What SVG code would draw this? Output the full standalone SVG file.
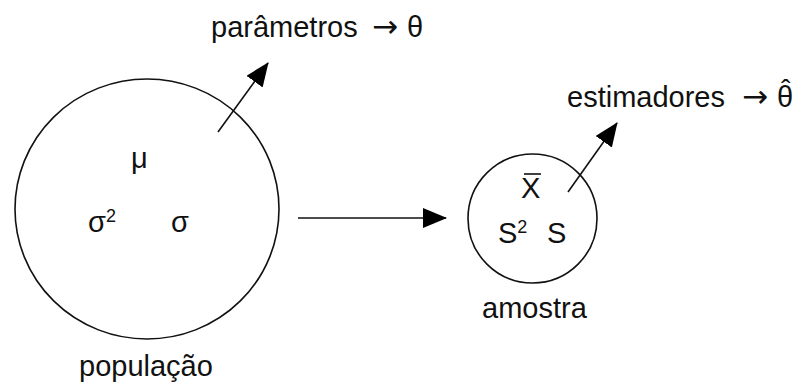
<svg xmlns="http://www.w3.org/2000/svg" width="797" height="383" viewBox="0 0 797 383">
<style>
text{font-family:"Liberation Sans",Arial,sans-serif;font-size:29px;fill:#111}
.ar{font-family:"DejaVu Sans",sans-serif;font-size:31px}
.c{fill:none;stroke:#111;stroke-width:1.6}
.l{fill:none;stroke:#111;stroke-width:1.6}
</style>
<defs>
<marker id="ah" viewBox="0 0 24 20" refX="23" refY="10" markerWidth="24" markerHeight="20" markerUnits="userSpaceOnUse" orient="auto">
<path d="M0,0 L24,10 L0,20 z" fill="#000"/>
</marker>
</defs>
<rect width="797" height="383" fill="#fff"/>
<g id="populacao">
<ellipse class="c" cx="147" cy="209" rx="132" ry="130"/>
<text x="131" y="168" font-size="28">μ</text>
<text x="88" y="232" font-size="28">σ<tspan font-size="18" dy="-10">2</tspan></text>
<text x="171" y="232" font-size="28">σ</text>
<text x="79" y="376" font-size="28">população</text>
</g>
<g id="amostra">
<circle class="c" cx="532.5" cy="218.5" r="64.5"/>
<text x="521" y="198" font-size="25">X</text>
<line x1="524" y1="174" x2="541" y2="174" stroke="#111" stroke-width="1.6"/>
<text x="498" y="243" font-size="28">S<tspan font-size="18" dy="-10">2</tspan></text>
<text x="547" y="243" font-size="28">S</text>
<text x="482" y="318">amostra</text>
</g>
<g id="parametros">
<text x="211" y="37">parâmetros<tspan class="ar" x="372">→</tspan><tspan x="407">θ</tspan></text>
</g>
<g id="estimadores">
<text x="567" y="107">estimadores<tspan class="ar" x="742">→</tspan><tspan x="777">θ</tspan><tspan x="781" y="100">ˆ</tspan></text>
</g>
<g id="connectors">
<line class="l" x1="218" y1="132" x2="268" y2="63" marker-end="url(#ah)"/>
<line class="l" x1="568" y1="192" x2="617" y2="123" marker-end="url(#ah)"/>
<line class="l" x1="298" y1="218" x2="446" y2="218" marker-end="url(#ah)"/>
</g>
</svg>
